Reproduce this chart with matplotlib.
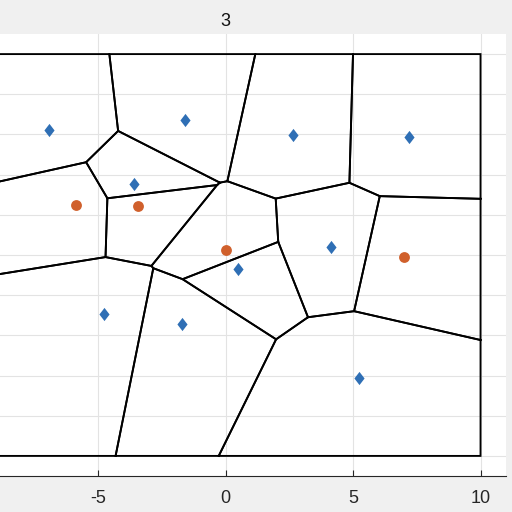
import numpy as np
import matplotlib
matplotlib.use("Agg")
import matplotlib.pyplot as plt
from matplotlib.path import Path

plt.rcParams["axes.unicode_minus"] = False

# data
blue_x = [-6.92, -1.58, 2.63, 7.18, -3.61, 4.14, 0.48, -4.76, -1.73, 5.23]
blue_y = [6.22, 6.70, 5.97, 5.87, 3.55, 0.42, -0.72, -2.95, -3.43, -6.13]
orange_x = [-5.87, -3.44, 0.01, 6.98]
orange_y = [2.50, 2.44, 0.23, -0.08]
box = [-10, 10, -10, 10]
xticks = [-10, -5, 0, 5, 10]
yticks = list(range(-10, 11, 2))
title = "3"


def clip(poly, n, c):
    # keep points with dot(p, n) <= c
    out = []
    m = len(poly)
    for k in range(m):
        a = poly[k]
        b = poly[(k + 1) % m]
        da = a[0] * n[0] + a[1] * n[1] - c
        db = b[0] * n[0] + b[1] * n[1] - c
        if da <= 0:
            out.append(a)
        if (da < 0 < db) or (db < 0 < da):
            t = da / (da - db)
            out.append((a[0] + t * (b[0] - a[0]), a[1] + t * (b[1] - a[1])))
    return out


pts = np.array(list(zip(blue_x + orange_x, blue_y + orange_y)))
x0, x1, y0, y1 = box
cells = []
for i, p in enumerate(pts):
    poly = [(x0, y0), (x1, y0), (x1, y1), (x0, y1)]
    for j, q in enumerate(pts):
        if i == j:
            continue
        n = q - p
        mid = (p + q) / 2
        poly = clip(poly, n, float(n @ mid))
    cells.append(poly)

fig = plt.figure(figsize=(5.12, 5.12), dpi=100, facecolor="#f0f0f0")
ax = fig.add_axes([-54.5 / 512, 36 / 512, 560.5 / 512, 442 / 512])
ax.set_facecolor("white")

for poly in cells:
    xs = [v[0] for v in poly] + [poly[0][0]]
    ys = [v[1] for v in poly] + [poly[0][1]]
    ax.plot(xs, ys, color="black", lw=1.35, zorder=2, solid_joinstyle="miter")

diamond = Path([(0, 1), (0.77, 0), (0, -1), (-0.77, 0), (0, 1)],
               [Path.MOVETO, Path.LINETO, Path.LINETO, Path.LINETO, Path.CLOSEPOLY])
ax.plot(blue_x, blue_y, linestyle="none", marker=diamond, color="#2f6fb5",
        ms=9.5, mew=0, zorder=3)
ax.plot(orange_x, orange_y, "o", color="#d0602c", ms=7.8, mew=0, zorder=3)

ax.set_xlim(-11, 11)
ax.set_ylim(-11, 11)
ax.set_xticks(xticks)
ax.set_yticks(yticks)
ax.grid(True, color="#e3e3e3", lw=0.8, zorder=0)
ax.set_axisbelow(True)
for s in ["top", "right"]:
    ax.spines[s].set_visible(False)
for s in ["bottom", "left"]:
    ax.spines[s].set_color("#262626")
    ax.spines[s].set_linewidth(0.8)
ax.tick_params(direction="in", length=4, width=0.8, color="#262626",
               labelsize=13, labelcolor="#262626", pad=10)
for lab in ax.get_xticklabels() + ax.get_yticklabels():
    lab.set_fontfamily("Liberation Sans")
ax.set_title(title, fontsize=13, fontfamily="Liberation Sans", pad=6, color="#111111")

fig.savefig("out.png", dpi=100, facecolor=fig.get_facecolor())
